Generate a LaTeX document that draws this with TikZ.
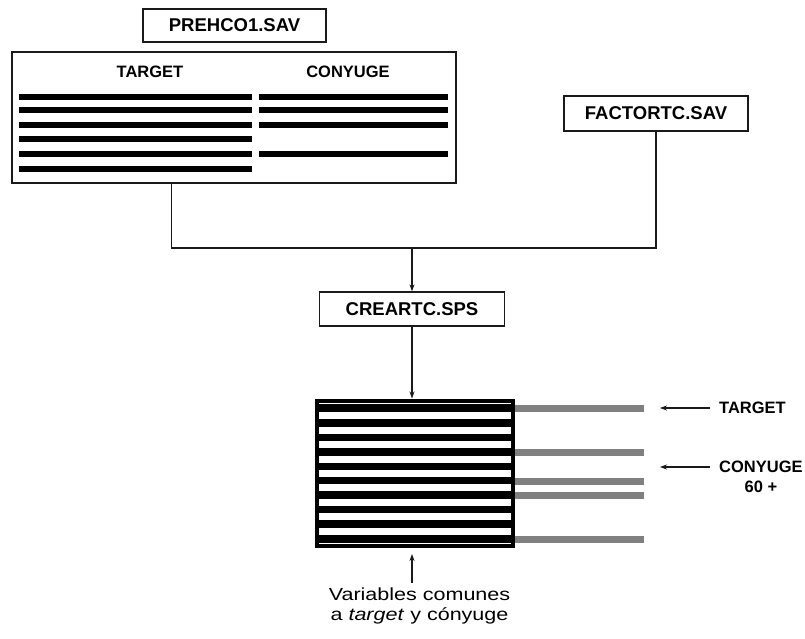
\documentclass[tikz,border=0pt]{standalone}
\usepackage{fontspec}
\setmainfont{Liberation Sans}
\newfontfamily\widesans[FakeStretch=1.23]{Liberation Sans}
\usetikzlibrary{arrows.meta,positioning,calc}
\definecolor{ink}{HTML}{1A1A1A}
\definecolor{bargray}{HTML}{808080}
\tikzset{filebox/.style={draw=ink,line width=1.3pt,fill=white,inner sep=0pt,font=\fontsize{18.5}{22}\selectfont\bfseries},
  lab/.style={inner sep=0pt,font=\fontsize{16.5}{20}\selectfont\bfseries},
  conn/.style={line width=1.3pt,draw=ink},arr/.style={-{Stealth[length=7pt,width=5pt]},line width=1.1pt,draw=ink},
  blackbar/.style={line width=6.5pt,draw=black},graybar/.style={line width=7pt,draw=bargray}}

\begin{document}
\begin{tikzpicture}[x=1pt,y=-1pt]
\useasboundingbox (0,0) rectangle (805,639);
% input files
\node[filebox,minimum width=183pt,minimum height=33pt](prehco) at (234.5,25.5){PREHCO1.SAV};
\node[draw=ink,line width=1.8pt,minimum width=444pt,minimum height=131pt,inner sep=0pt](prev) at (234,117.5){};
\node[lab](ltarget) at (150,72){TARGET};\node[lab](lconyuge) at (348,72){CONYUGE};
\foreach \y in {97,110,125,139,154,169} \draw[blackbar](19,\y)--(252,\y);
\foreach \y in {97,110,125,154} \draw[blackbar](259,\y)--(448,\y);
\node[filebox,minimum width=184pt,minimum height=35pt](factor) at (656,113.5){FACTORTC.SAV};
% merge
\coordinate(join) at (412,248);
\draw[conn]($(prev.south west)!0.36!(prev.south east)$)|-(join);\draw[conn](factor.south)|-(join);
\node[filebox,minimum width=185pt,minimum height=34pt](creartc) at (412,309){CREARTC.SPS};
\draw[arr](join)--(creartc.north);
% result file
\node[draw=black,fill=black,line width=1pt,minimum width=199pt,minimum height=148pt,inner sep=0pt](mix) at (414.5,473){};
\draw[arr](creartc.south)--(creartc.south |- mix.north);
\foreach \k in {0,...,8} \fill[white](319,412.3+14.4*\k) rectangle ++(192,7);
\fill[white](319,403) rectangle (511,404.2);\fill[white](319,543) rectangle (511,544.2);
\foreach \y in {408,452,481,495,539} \draw[graybar](mix.east |- 0,\y)--(644,\y);
% labels on the right
\node[lab,anchor=west](rtarget) at (719,408){TARGET};
\node[lab,anchor=west](rconyuge) at (719,467){CONYUGE};\node[lab,below=8pt of rconyuge](rsixty){60 +};
\coordinate(t1) at (660,408);\coordinate(c1) at (660,467);
\draw[arr,shorten <=9pt](rtarget.west)--(t1);\draw[arr,shorten <=9pt](rconyuge.west)--(c1);
% note
\node[align=center,inner sep=0pt,font=\widesans\fontsize{17.5}{20}\selectfont](note) at (419.5,606){Variables comunes\\a \textit{target} y cónyuge};
\coordinate(n1) at (412,554);
\draw[arr](412,583)--(n1);
\end{tikzpicture}
\end{document}
